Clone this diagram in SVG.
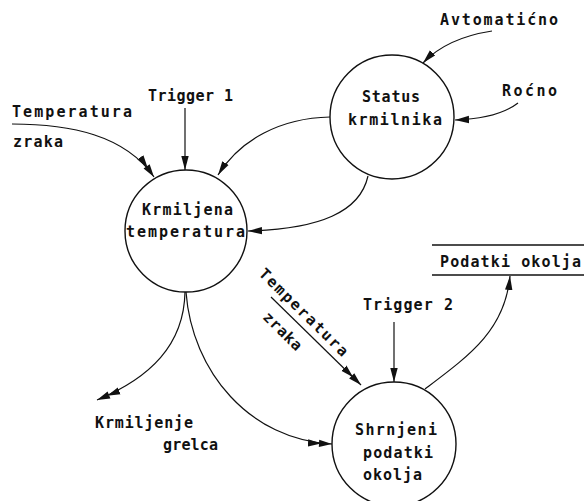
<svg xmlns="http://www.w3.org/2000/svg" width="584" height="501" viewBox="0 0 584 501">
  <style>
    text { font-family: "DejaVu Sans Mono", "Liberation Mono", monospace; font-weight: bold; font-size: 15px; fill: #111; }
    .proc { fill: #fff; stroke: #111; stroke-width: 1.4; }
    .flow { fill: none; stroke: #111; stroke-width: 1.2; }
    .one { marker-end: url(#head); }
    .two { marker-end: url(#head2); }
    .store { stroke: #111; stroke-width: 1.3; }
  </style>
  <defs>
    <marker id="head" markerUnits="userSpaceOnUse" markerWidth="16" markerHeight="10" refX="14" refY="4" orient="auto">
      <path d="M0,0.3 L14,4 L0,7.7 z" fill="#111"/>
    </marker>
    <marker id="head2" markerUnits="userSpaceOnUse" markerWidth="26" markerHeight="10" refX="24" refY="4" orient="auto">
      <path d="M0,0.3 L13,4 L0,7.7 z M11,0.3 L24,4 L11,7.7 z" fill="#111"/>
    </marker>
  </defs>

  <!-- data flows -->
  <g id="connectors">
    <path class="flow one" d="M492,31 C 466,35 440,45 423,63"/>
    <path class="flow one" d="M518,103 C 505,113 485,119 455,120"/>
    <path class="flow one" d="M330,117 C 280,118 240,140 218,175"/>
    <path class="flow one" d="M368,176 C 360,212 320,229 248,231"/>
    <path class="flow one" d="M185,108 L185,170"/>
    <path class="flow two" d="M12,124 C 70,124 125,135 154,177"/>
    <path class="flow two" d="M185,292 C 184,345 150,378 97,400"/>
    <path class="flow two" d="M186,292 C 192,372 250,440 332,444"/>
    <path class="flow two" d="M271,297 L361,385"/>
    <path class="flow one" d="M394,322 L394,382"/>
    <path class="flow one" d="M425,389 C 470,355 505,330 510,276"/>
  </g>

  <!-- process: controller status -->
  <g id="status-krmilnika">
    <circle class="proc" cx="392" cy="117" r="62"/>
    <text x="362" y="102" textLength="58" lengthAdjust="spacing">Status</text>
    <text x="348" y="125" textLength="94" lengthAdjust="spacing">krmilnika</text>
  </g>

  <!-- process: controlled temperature -->
  <g id="krmiljena-temperatura">
    <circle class="proc" cx="186" cy="231" r="61"/>
    <text x="142" y="215" textLength="91" lengthAdjust="spacing">Krmiljena</text>
    <text x="126" y="237" textLength="119" lengthAdjust="spacing">temperatura</text>
  </g>

  <!-- process: aggregated environment data -->
  <g id="shrnjeni-podatki">
    <circle class="proc" cx="394" cy="444" r="62"/>
    <text x="355" y="435" textLength="82" lengthAdjust="spacing">Shrnjeni</text>
    <text x="363" y="458" textLength="70" lengthAdjust="spacing">podatki</text>
    <text x="363" y="480" textLength="59" lengthAdjust="spacing">okolja</text>
  </g>

  <!-- data store -->
  <g id="podatki-okolja">
    <line class="store" x1="432" y1="245" x2="584" y2="245"/>
    <line class="store" x1="432" y1="275" x2="584" y2="275"/>
    <text x="440" y="267" textLength="141" lengthAdjust="spacing">Podatki okolja</text>
  </g>

  <!-- flow labels -->
  <g id="labels">
    <text x="440" y="25" textLength="118" lengthAdjust="spacing">Avtomatićno</text>
    <text x="502" y="96" textLength="55" lengthAdjust="spacing">Roćno</text>
    <text x="148" y="101" textLength="85" lengthAdjust="spacing">Trigger 1</text>
    <text x="12" y="117" textLength="120" lengthAdjust="spacing">Temperatura</text>
    <text x="13" y="147" textLength="50" lengthAdjust="spacing">zraka</text>
    <text x="363" y="310" textLength="90" lengthAdjust="spacing">Trigger 2</text>
    <text x="95" y="428" textLength="98" lengthAdjust="spacing">Krmiljenje</text>
    <text x="163" y="450" textLength="55" lengthAdjust="spacing">grelca</text>
    <text transform="translate(258,274.5) rotate(44.5)" textLength="118" lengthAdjust="spacing">Temperatura</text>
    <text transform="translate(262,318) rotate(44.5)" textLength="48" lengthAdjust="spacing">zraka</text>
  </g>
</svg>
